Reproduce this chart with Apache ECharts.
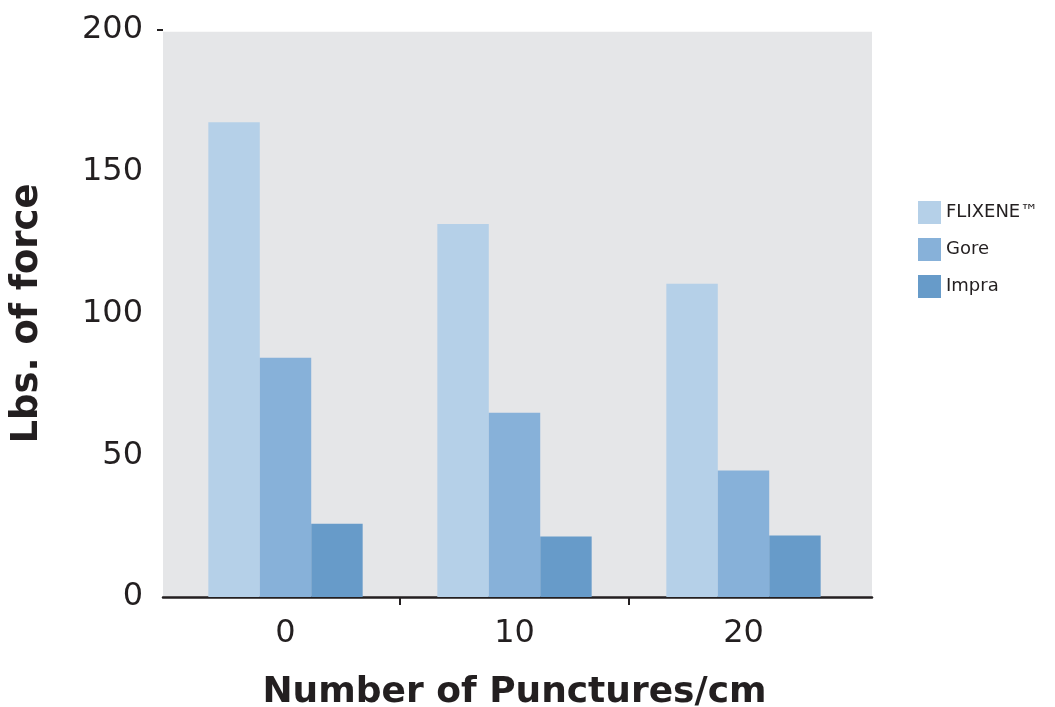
<!DOCTYPE html>
<html>
<head>
<meta charset="utf-8">
<script src="https://cdn.jsdelivr.net/npm/echarts@6/dist/echarts.min.js"></script>
<style>
html,body{margin:0;padding:0;background:#fff;}
#c{width:1055px;height:707px;}
</style>
</head>
<body>
<div id="c"></div>
<script>
var categories = ['0', '10', '20'];
var seriesNames = ['FLIXENE™', 'Gore', 'Impra'];
var flixene = [167.5, 131.6, 110.5];
var gore = [84.4, 65.0, 44.6];
var impra = [25.8, 21.3, 21.7];
var yTicks = [0, 50, 100, 150, 200];

var colors = ['#b5d0e8', '#87b1d9', '#679bc9'];
var dark = '#231f20';
var font = 'DejaVu Sans';

// background grid spans slightly wider than the bar grid; express its x range in category-index units
var bandStart = 171, bandWidth = 229, bgLeft = 163, bgRight = 872;
var bgMin = (bgLeft - bandStart) / bandWidth - 0.5;
var bgMax = (bgRight - bandStart) / bandWidth - 0.5;

var chart = echarts.init(document.getElementById('c'));
chart.setOption({
  animation: false,
  backgroundColor: '#ffffff',
  legend: {
    orient: 'vertical',
    left: 913,
    top: 196,
    itemWidth: 23,
    itemHeight: 23,
    itemGap: 14,
    icon: 'rect',
    data: seriesNames,
    textStyle: { fontFamily: font, fontSize: 18, color: dark }
  },
  grid: [
    { left: bgLeft, right: 1055 - bgRight, top: 30, bottom: 110, show: true, backgroundColor: '#e5e6e8', borderWidth: 0, outerBoundsMode: 'none', containLabel: false },
    { left: bandStart, right: 1055 - bandStart - 3 * bandWidth, top: 30, bottom: 110, outerBoundsMode: 'none', containLabel: false }
  ],
  xAxis: [
    {
      gridIndex: 0, type: 'value', min: bgMin, max: bgMax,
      axisLine: { show: true, onZero: false, lineStyle: { color: dark, width: 2.5 } },
      axisTick: { show: true, customValues: [0.5, 1.5], length: 8, lineStyle: { color: dark, width: 2 } },
      axisLabel: { show: false }, splitLine: { show: false }
    },
    {
      gridIndex: 1, type: 'category', data: categories,
      axisLine: { show: false, onZero: false },
      axisTick: { show: false },
      axisLabel: { fontFamily: font, fontSize: 32, color: dark, margin: 21 },
      name: 'Number of Punctures/cm',
      nameLocation: 'middle',
      nameGap: 78,
      nameTextStyle: { fontFamily: font, fontSize: 36, fontWeight: 'bold', color: dark }
    }
  ],
  yAxis: [
    {
      gridIndex: 0, type: 'value', min: yTicks[0], max: yTicks[yTicks.length - 1], interval: 50,
      axisLine: { show: false, onZero: false },
      axisTick: { show: true, customValues: [200], length: 6, lineStyle: { color: dark, width: 2 } },
      axisLabel: { fontFamily: font, fontSize: 32, color: dark, margin: 20 },
      splitLine: { show: true, lineStyle: { color: '#ffffff', width: 2.5 } },
      name: 'Lbs. of force',
      nameLocation: 'middle',
      nameGap: 117,
      nameTextStyle: { fontFamily: font, fontSize: 37, fontWeight: 'bold', color: dark }
    },
    {
      gridIndex: 1, type: 'value', min: yTicks[0], max: yTicks[yTicks.length - 1], interval: 50,
      axisLine: { show: false, onZero: false }, axisTick: { show: false }, axisLabel: { show: false }, splitLine: { show: false }
    }
  ],
  series: [
    { name: seriesNames[0], type: 'bar', xAxisIndex: 1, yAxisIndex: 1, data: flixene, itemStyle: { color: colors[0] }, barGap: '0%', barCategoryGap: '32.6%' },
    { name: seriesNames[1], type: 'bar', xAxisIndex: 1, yAxisIndex: 1, data: gore, itemStyle: { color: colors[1] }, barGap: '0%', barCategoryGap: '32.6%' },
    { name: seriesNames[2], type: 'bar', xAxisIndex: 1, yAxisIndex: 1, data: impra, itemStyle: { color: colors[2] }, barGap: '0%', barCategoryGap: '32.6%' }
  ]
});
</script>
</body>
</html>
